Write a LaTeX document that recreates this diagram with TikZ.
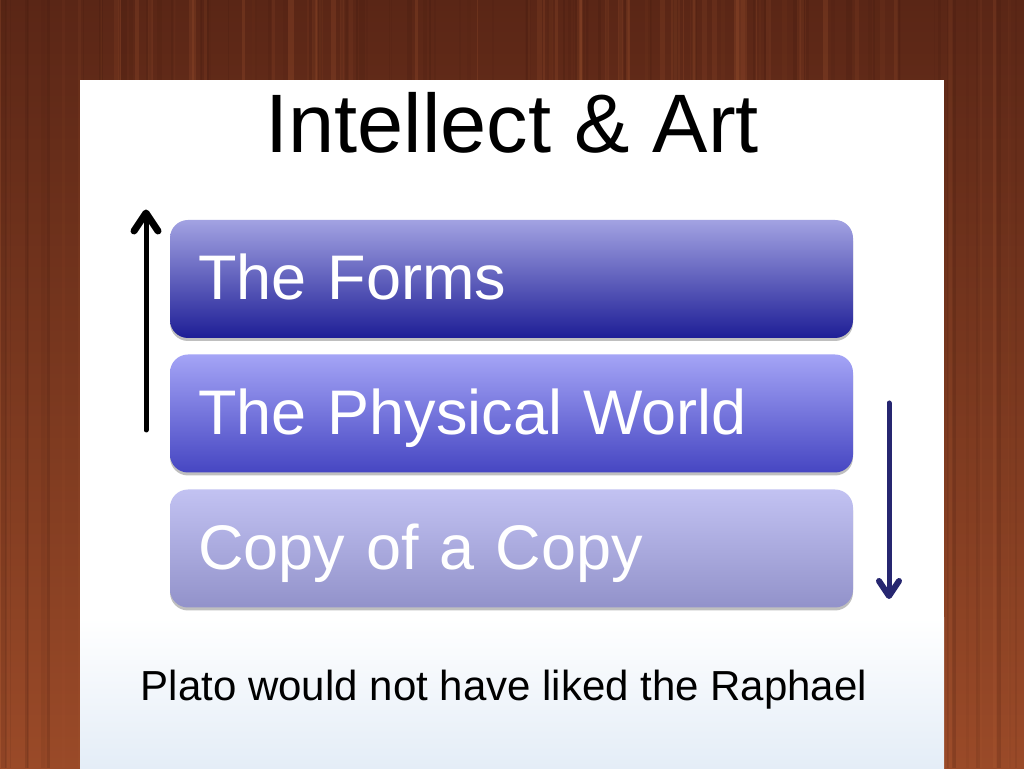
\documentclass[tikz,border=0pt]{standalone}
\usepackage{fontspec}
\setmainfont{Liberation Sans}
\usetikzlibrary{shadows}
\definecolor{woodtop}{HTML}{5A2616}
\definecolor{woodbot}{HTML}{9A4A28}
\definecolor{streakA}{HTML}{3A160C}
\definecolor{streakB}{HTML}{B8643A}
\definecolor{panelblue}{HTML}{E4EDF7}
\definecolor{boxAtop}{HTML}{A2A2E2}
\definecolor{boxAbot}{HTML}{1E1E96}
\definecolor{boxBtop}{HTML}{A4A4F6}
\definecolor{boxBbot}{HTML}{4646C2}
\definecolor{boxCtop}{HTML}{C2C2F2}
\definecolor{boxCbot}{HTML}{9292CA}
\definecolor{navyarrow}{HTML}{262670}
\tikzset{
  x=1pt, y=1pt,
  stepbox/.style={rectangle, rounded corners=18pt, minimum width=683pt,
    text width=627pt, align=left, inner xsep=28pt, inner ysep=0pt,
    text height=80pt, text depth=38pt, text=white,
    font=\fontsize{63}{63}\selectfont,
    drop shadow={shadow xshift=0pt, shadow yshift=-3pt, opacity=0.25, fill=black}},
  flowarrow/.style={line width=5pt, line cap=round, line join=round},
  arrowhead/.style={line width=7pt, line cap=round, line join=round}
}
\begin{document}
\begin{tikzpicture}
\useasboundingbox (0,0) rectangle (1024,768);
% wood background
\shade[top color=woodtop, bottom color=woodbot] (0,0) rectangle (1024,768);
\pgfmathsetseed{11}
\foreach \i in {1,...,160}{
  \pgfmathsetmacro{\xx}{rnd*1024}
  \pgfmathsetmacro{\ww}{1+rnd*5}
  \pgfmathsetmacro{\oo}{0.05+rnd*0.15}
  \pgfmathsetmacro{\cc}{rnd}
  \ifdim\cc pt<0.5pt
    \fill[streakA, opacity=\oo] (\xx,0) rectangle ++(\ww,768);
  \else
    \fill[streakB, opacity=\oo] (\xx,0) rectangle ++(\ww,768);
  \fi
}
% panel
\fill[white] (80,0) rectangle (944,688);
\shade[top color=white, bottom color=panelblue] (80,0) rectangle (944,150);
% title
\node[anchor=base, font=\fontsize{83}{83}\selectfont] (title) at (512,615) {Intellect \& Art};
% boxes
\node[stepbox, top color=boxAtop, bottom color=boxAbot] (forms) at (511.5,489) {The Forms};
\node[stepbox, top color=boxBtop, bottom color=boxBbot] (physical) at (511.5,354.5) {The Physical World};
\node[stepbox, top color=boxCtop, bottom color=boxCbot] (copy) at (511.5,219.5) {Copy of a Copy};
% arrows
\coordinate (upStart) at (146,338);
\coordinate (upEnd) at (146,555);
\coordinate (downStart) at (889,365);
\coordinate (downEnd) at (889,172);
\draw[flowarrow, black] (upStart) -- (upEnd);
\draw[arrowhead, black] (upEnd) ++(-12,-18) -- (upEnd) -- ++(12,-18);
\draw[flowarrow, navyarrow] (downStart) -- (downEnd);
\draw[arrowhead, navyarrow, line width=6pt] (downEnd) ++(-10,15) -- (downEnd) -- ++(10,15);
% caption
\node[anchor=base, font=\fontsize{42}{42}\selectfont] (caption) at (504,68) {Plato would not have liked the Raphael};
\end{tikzpicture}
\end{document}
